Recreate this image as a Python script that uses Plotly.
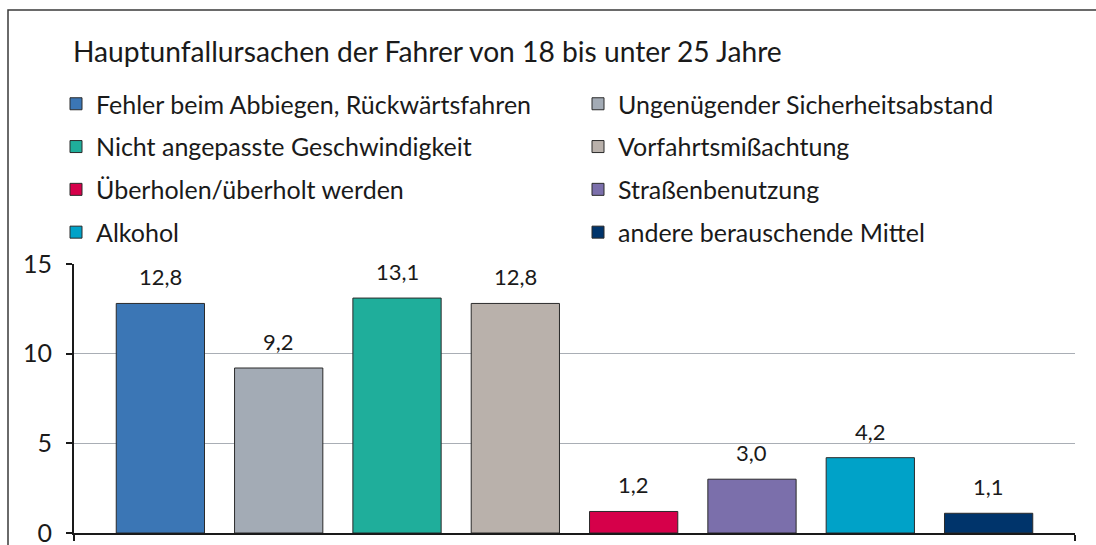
import plotly.graph_objects as go

title = "Hauptunfallursachen der Fahrer von 18 bis unter 25 Jahre"
categories = [
    "Fehler beim Abbiegen, Rückwärtsfahren",
    "Ungenügender Sicherheitsabstand",
    "Nicht angepasste Geschwindigkeit",
    "Vorfahrtsmißachtung",
    "Überholen/überholt werden",
    "Straßenbenutzung",
    "Alkohol",
    "andere berauschende Mittel",
]
values = [12.8, 9.2, 13.1, 12.8, 1.2, 3.0, 4.2, 1.1]
colors = ["#3b76b5", "#a3abb5", "#1fae9b", "#b9b1ab",
          "#d6004a", "#7b6fab", "#00a2c8", "#00346b"]
y_ticks = [0, 5, 10, 15]

FONT = "Lato"
W, H = 1096, 545
# plot area in page pixels: x 74..1075, y 264..533
ML, MR = 74, 1096 - 1075
MT, MB = 264, 545 - 533
pad = 0.73
bar_w = 0.746

fig = go.Figure()
for i, (name, v, c) in enumerate(zip(categories, values, colors)):
    fig.add_trace(go.Bar(
        x=[i], y=[v], name=name, width=bar_w,
        marker=dict(color=c, line=dict(color="#2b2b2b", width=1)),
        legend="legend" if i % 2 == 0 else "legend2",
        legendgroup=name,
        hoverinfo="skip",
    ))
    fig.add_annotation(
        x=i, y=v, xref="x", yref="y", text=f"{v:.1f}".replace(".", ","),
        showarrow=False, yanchor="bottom", yshift=11,
        font=dict(family=FONT, size=22, color="#1a1a1a"),
    )

pw = 1075 - 74
ph = 533 - 264
bx0 = (8 - 74) / pw
bx1 = (1150 - 74) / pw
by0 = -60 / ph
by1 = 1 + (264 - 10) / ph
fig.add_shape(type="path", xref="paper", yref="paper",
              path=f"M {bx0},{by0} L {bx0},{by1} L {bx1},{by1}",
              line=dict(color="#3a3a3a", width=1.5), layer="above")


def cx(px):
    return px / W


def cy(py):
    return 1 - py / H


legend_common = dict(
    xref="container", yref="container", xanchor="left", yanchor="top",
    orientation="v", tracegroupgap=7.3, bgcolor="rgba(0,0,0,0)",
    font=dict(family=FONT, size=25, color="#1a1a1a"),
    itemclick=False, itemdoubleclick=False,
)
fig.update_layout(
    width=W, height=H,
    margin=dict(l=ML, r=MR, t=MT, b=MB, autoexpand=False),
    paper_bgcolor="white", plot_bgcolor="white",
    showlegend=True,
    barmode="overlay",
    title=dict(text=title, x=cx(73), xanchor="left", xref="container",
               y=cy(52), yanchor="middle", yref="container",
               font=dict(family=FONT, size=28.2, color="#1a1a1a")),
    legend=dict(x=cx(56), y=cy(81), **legend_common),
    legend2=dict(x=cx(578), y=cy(81), **legend_common),
    xaxis=dict(range=[-pad, len(values) - 1 + pad], showgrid=False, zeroline=False,
               showline=True, linecolor="#1a1a1a", linewidth=2,
               ticks="outside", ticklen=6, tickcolor="#1a1a1a", tickwidth=1.5,
               tickvals=[-pad + 1e-6, len(values) - 1 + pad - 1e-6],
               showticklabels=False, fixedrange=True),
    yaxis=dict(range=[0, 15], tickvals=y_ticks, showgrid=True, gridcolor="#a9aeb5",
               gridwidth=1, zeroline=False, showline=True, linecolor="#1a1a1a",
               linewidth=2, ticks="outside", ticklen=6, tickcolor="#1a1a1a",
               tickwidth=1.5, ticklabelstandoff=9, ticklabeloverflow="allow",
               tickfont=dict(family=FONT, size=25, color="#1a1a1a"), fixedrange=True),
)
fig.write_html(
    "out.html",
    config={"displayModeBar": False},
    post_script="document.body.style.margin='0';document.body.style.overflow='hidden';",
)
